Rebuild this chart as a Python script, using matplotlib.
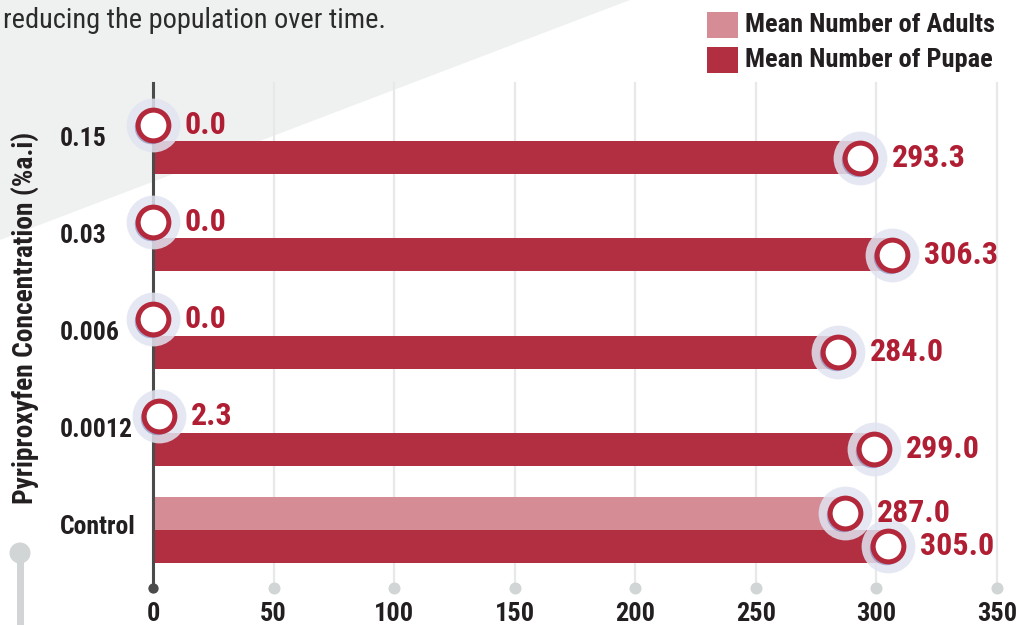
# bars of adults / pupae per pyriproxyfen dose, infographic style
import numpy as np
import matplotlib
matplotlib.use("Agg")
import matplotlib.pyplot as plt
from matplotlib.patches import Polygon, Rectangle, Ellipse
from matplotlib.transforms import (offset_copy, blended_transform_factory,
                                   ScaledTranslation)

categories = ["0.15", "0.03", "0.006", "0.0012", "Control"]
adults = [0.0, 0.0, 0.0, 2.3, 287.0]
pupae = [293.3, 306.3, 284.0, 299.0, 305.0]
xticks = [0, 50, 100, 150, 200, 250, 300, 350]
series_names = ["Mean Number of Adults", "Mean Number of Pupae"]

C_ADULT = "#d58c95"
C_PUPAE = "#b22f41"
C_VAL = "#b01e33"
C_TXT = "#231f20"
C_BG = "#eff1f0"
C_GRID = "#e7e8e9"
C_DOT = "#d1d5d5"

# condensed face if there is one, else plain Roboto
FONT = ["Roboto Condensed", "Archivo Narrow", "Roboto", "DejaVu Sans"]
plt.rcParams["font.family"] = FONT

W, H = 1019, 625
fig = plt.figure(figsize=(W / 100, H / 100), dpi=100, facecolor="white")

# diagonal grey band in the upper left
fig.add_artist(Polygon([(0, 1), (630 / W, 1), (0, 1 - 240 / H)],
                       closed=True, transform=fig.transFigure,
                       facecolor=C_BG, edgecolor="none", zorder=0))

ax = fig.add_axes([153 / W, 1 - 588 / H, (997 - 153) / W, (588 - 83) / H])
ax.set_facecolor("none")
y = np.arange(len(categories))
bh = 0.34

ax.barh(y - bh / 2, adults, height=bh, color=C_ADULT, zorder=2)
ax.barh(y + bh / 2, pupae, height=bh, color=C_PUPAE, zorder=2)

ax.set_xlim(0, 350)
ax.set_ylim(4.6, -0.6)

# markers with halo and soft blue shadow
shadow_tr = offset_copy(ax.transData, fig=fig, x=-2, y=-2, units="dots")
for vals, off in ((adults, -bh / 2), (pupae, bh / 2)):
    yy = y + off
    ax.scatter(vals, yy, s=1500, color="#e1e4f1", alpha=0.85, lw=0,
               zorder=3, clip_on=False)
    ax.scatter(vals, yy, s=580, color="#5b63a8", alpha=0.45, lw=0,
               zorder=4, clip_on=False, transform=shadow_tr)
    ax.scatter(vals, yy, s=490, facecolor="white", edgecolor="#b3283b",
               lw=3.6, zorder=5, clip_on=False)
    for v, yv in zip(vals, yy):
        ax.annotate(f"{v:.1f}", (v, yv), xytext=(23, 0),
                    textcoords="offset points", ha="left", va="center",
                    fontsize=23, fontweight="bold", color=C_VAL, zorder=6,
                    annotation_clip=False)

# axes styling
for s in ("top", "right", "bottom"):
    ax.spines[s].set_visible(False)
ax.spines["left"].set_color("#4b4b4b")
ax.spines["left"].set_linewidth(2.2)
ax.spines["left"].set_zorder(2.5)

ax.set_xticks(xticks)
ax.set_xticklabels([str(t) for t in xticks])
ax.tick_params(axis="x", length=0, pad=10, labelsize=19, labelcolor=C_TXT)
for lab in ax.get_xticklabels():
    lab.set_fontweight("bold")
ax.xaxis.grid(True, color=C_GRID, lw=1.6)
for gl in ax.get_xgridlines():
    gl.set_clip_on(False)
ax.set_axisbelow(True)

# dots at the foot of each grid line
foot = blended_transform_factory(ax.transData, ax.transAxes)
ax.scatter(xticks[1:], [0] * (len(xticks) - 1), s=75, color=C_DOT, lw=0,
           transform=foot, clip_on=False, zorder=1)
ax.scatter(xticks[:1], [0], s=55, color="#4b4b4b", lw=0,
           transform=foot, clip_on=False, zorder=3)

ax.set_yticks(y)
ax.set_yticklabels(categories)
ax.tick_params(axis="y", length=0, pad=67, labelsize=18.5, labelcolor=C_TXT)
lift = ScaledTranslation(0, 5 / 100, fig.dpi_scale_trans)
for lab in ax.get_yticklabels():
    lab.set_fontweight("bold")
    lab.set_horizontalalignment("left")
    lab.set_transform(lab.get_transform() + lift)

fig.text(25 / W, 1 - 318 / H, "Pyriproxyfen Concentration (%a.i)",
         rotation=90, ha="center", va="center", fontsize=19.8,
         fontweight="bold", color=C_TXT)

fig.text(3 / W, 1 - 21 / H, "reducing the population over time.",
         ha="left", va="center", fontsize=20.4, color="#2b2b2b")

# grey pin in the lower left
fig.add_artist(Rectangle((17 / W, 0), 7 / W, 1 - 553 / H,
                         transform=fig.transFigure, color=C_DOT, lw=0))
fig.add_artist(Ellipse((20 / W, 1 - 553 / H), 21 / W, 21 / H,
                       transform=fig.transFigure, color=C_DOT, lw=0))

# legend
for i, (name, col) in enumerate(zip(series_names, [C_ADULT, C_PUPAE])):
    top = 12 + i * 35
    fig.add_artist(Rectangle((707 / W, 1 - (top + 26) / H), 31 / W, 26 / H,
                             transform=fig.transFigure, color=col, lw=0))
    fig.text(745 / W, 1 - (top + 13) / H, name, ha="left", va="center",
             fontsize=19, fontweight="bold", color=C_TXT)

fig.savefig("out.png", dpi=100, facecolor=fig.get_facecolor())
